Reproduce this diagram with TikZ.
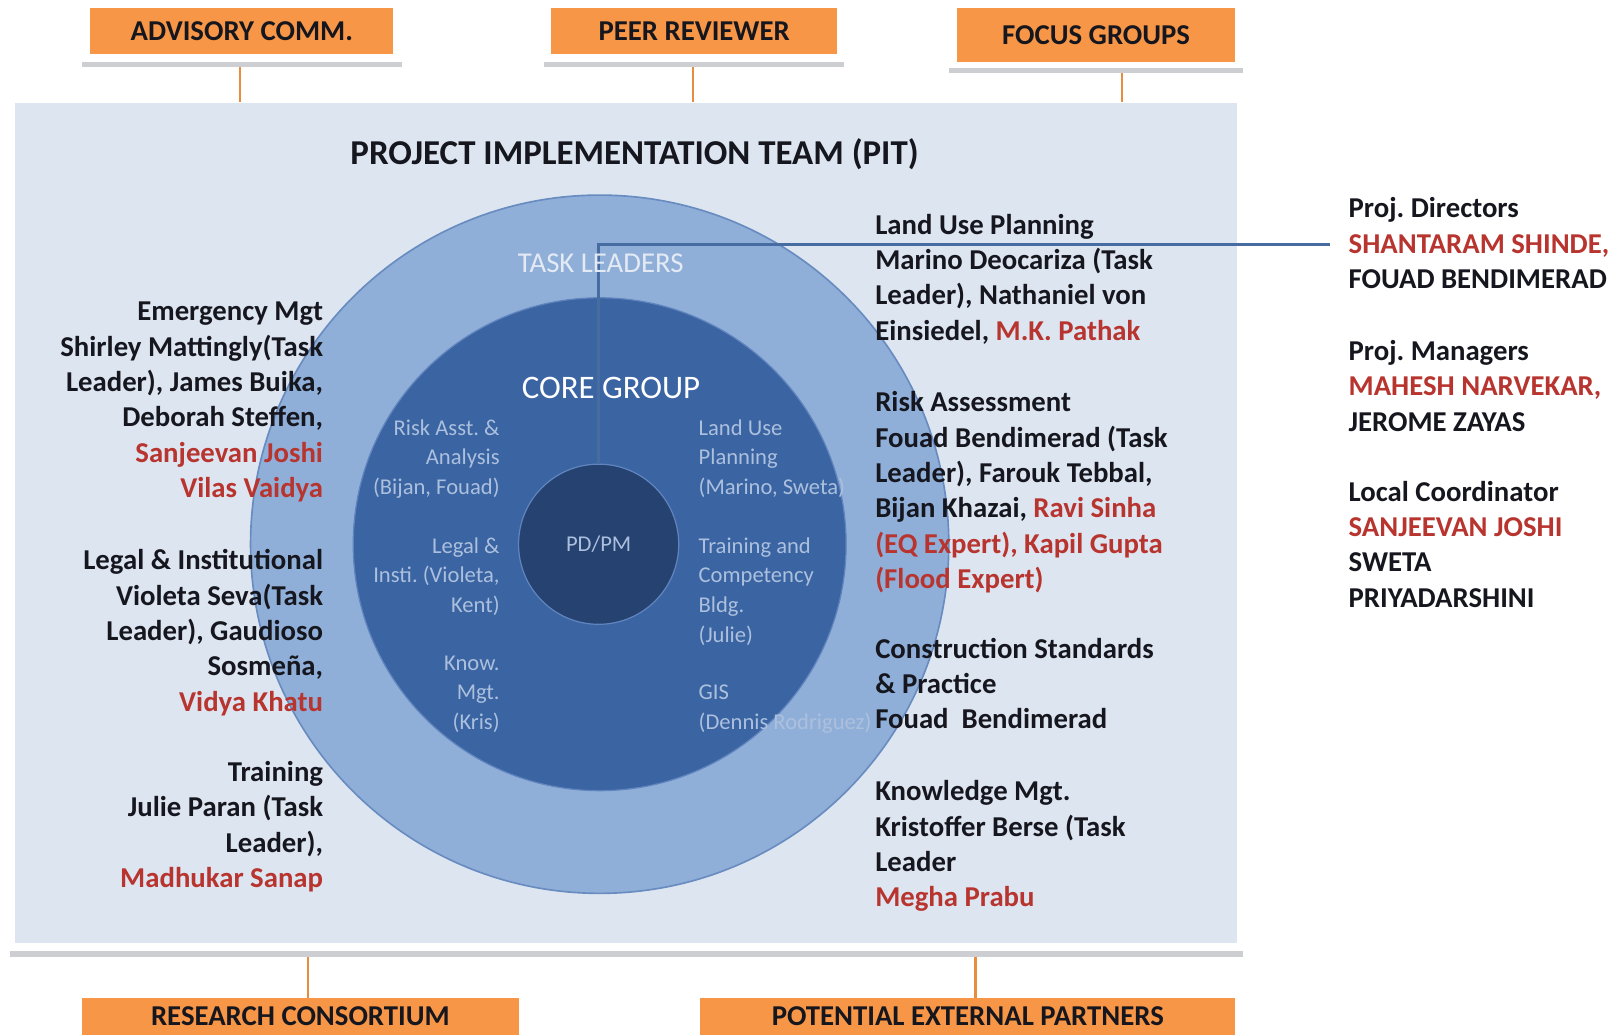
\documentclass[tikz,border=0pt]{standalone}
\usepackage{fontspec}
\setmainfont{Carlito}
\usepackage{xcolor}
\usepackage{tikz}
\frenchspacing

\definecolor{boxorange}{RGB}{247,150,70}
\definecolor{wireorange}{RGB}{232,140,62}
\definecolor{shadowgrey}{RGB}{204,206,210}
\definecolor{pitblue}{RGB}{221,229,241}
\definecolor{ringlight}{RGB}{143,175,217}
\definecolor{ringedge}{RGB}{104,140,192}
\definecolor{coreblue}{RGB}{58,100,162}
\definecolor{coreedge}{RGB}{96,132,190}
\definecolor{pmdark}{RGB}{37,66,112}
\definecolor{corefaint}{RGB}{172,192,222}
\definecolor{leadblue}{RGB}{70,108,162}
\definecolor{textdark}{RGB}{22,22,30}
\definecolor{namered}{RGB}{184,52,46}

\newcommand{\redname}[1]{\textcolor{namered}{#1}}

\begin{document}
\begin{tikzpicture}[x=0.5pt,y=-0.5pt,
  orangebox/.style={fill=boxorange, inner sep=0pt, text=textdark,
    font=\bfseries\fontsize{14}{16}\selectfont},
  shadowbar/.style={fill=shadowgrey},
  orangewire/.style={draw=wireorange, line width=1pt},
  teamtext/.style={inner sep=0pt, text=textdark,
    font=\bfseries\fontsize{14}{17.2}\selectfont},
  corelabel/.style={inner sep=0pt, text=corefaint,
    font=\fontsize{11}{14.5}\selectfont}]
\useasboundingbox (0,0) rectangle (1566,1008);

% team area and its links
\node[fill=pitblue, minimum width=595pt, minimum height=409pt] (pit) at (610,509) {};

\node[orangebox, minimum width=147.5pt, minimum height=22.5pt] (adv) at (235.5,30.5) {ADVISORY COMM.};
\node[orangebox, minimum width=139pt, minimum height=22.5pt] (peer) at (676,30.5) {PEER REVIEWER};
\node[orangebox, minimum width=135.5pt, minimum height=26pt] (focus) at (1067.5,34) {FOCUS GROUPS};
\node[orangebox, minimum width=212.5pt, minimum height=18pt] (research) at (292.5,990) {RESEARCH CONSORTIUM};
\node[orangebox, minimum width=260.5pt, minimum height=18pt] (partners) at (942.5,990) {POTENTIAL EXTERNAL PARTNERS};

\fill[shadowbar] ([xshift=-4pt,yshift=-3.5pt]adv.south west) rectangle ([xshift=4pt,yshift=-6pt]adv.south east);
\fill[shadowbar] ([xshift=-3.5pt,yshift=-3.5pt]peer.south west) rectangle ([xshift=3.5pt,yshift=-6pt]peer.south east);
\fill[shadowbar] ([xshift=-3.5pt,yshift=-3pt]focus.south west) rectangle ([xshift=3.5pt,yshift=-5.5pt]focus.south east);
\fill[shadowbar] ([xshift=-2.5pt,yshift=-4pt]pit.south west) rectangle ([xshift=2.5pt,yshift=-7pt]pit.south east);

\draw[orangewire] ([xshift=-0.75pt,yshift=-6pt]adv.south) -- ([xshift=-0.75pt]adv.south |- pit.north);
\draw[orangewire] ([xshift=-0.5pt,yshift=-6pt]peer.south) -- ([xshift=-0.5pt]peer.south |- pit.north);
\draw[orangewire] ([xshift=12.75pt,yshift=-5.5pt]focus.south) -- ([xshift=12.75pt]focus.south |- pit.north);
\draw[orangewire] ([xshift=3.75pt,yshift=-7pt]pit.south -| research.north) -- ([xshift=3.75pt]research.north);
\draw[orangewire] ([xshift=3.75pt,yshift=-7pt]pit.south -| partners.north) -- ([xshift=3.75pt]partners.north);

\node[text=textdark, font=\bfseries\fontsize{17}{20}\selectfont] (title) at (618,150) {PROJECT IMPLEMENTATION TEAM (PIT)};

% the rings
\node[circle, minimum size=340pt, inner sep=0pt, fill=ringlight, draw=ringedge, line width=0.8pt] (tasks) at (584,530) {};
\node[circle, minimum size=240pt, inner sep=0pt, fill=coreblue, draw=coreedge, line width=0.6pt] (core) at (584,530) {};
\node[circle, minimum size=78pt, inner sep=0pt, fill=pmdark, draw=coreedge, line width=0.6pt,
  text=corefaint, font=\fontsize{11}{13}\selectfont] (pdpm) at (583,530) {PD/PM};

\coordinate (dirtip) at (1295,238);
\draw[leadblue, line width=1.2pt] (pdpm.north) |- (dirtip);

\node[text=pitblue!80!white, font=\fontsize{14}{16}\selectfont] (tasklabel) at (585,256) {TASK LEADERS};
\node[text=white, font=\fontsize{16}{18}\selectfont] (corelabel) at (595,378) {CORE GROUP};

\node[corelabel, anchor=north east, align=right] (riskcore) at (487,408) {Risk Asst. \&\\Analysis\\(Bijan, Fouad)};
\node[corelabel, anchor=north east, align=right] (legalcore) at (487,523) {Legal \&\\Insti. (Violeta,\\Kent)};
\node[corelabel, anchor=north east, align=right] (knowcore) at (487,638) {Know.\\Mgt.\\(Kris)};
\node[corelabel, anchor=north west, align=left] (landcore) at (680,408) {Land Use\\Planning\\(Marino, Sweta)};
\node[corelabel, anchor=north west, align=left] (traincore) at (680,523) {Training and\\Competency\\Bldg.\\(Julie)};
\node[corelabel, anchor=north west, align=left] (giscore) at (680,667) {GIS\\(Dennis Rodriguez)};

% task teams, left side
\node[teamtext, anchor=north east, align=right] (emg) at (315,294)
  {Emergency Mgt\\Shirley Mattingly(Task\\Leader), James Buika,\\Deborah Steffen,\\\redname{Sanjeevan Joshi}\\\redname{Vilas Vaidya}};
\node[teamtext, anchor=north east, align=right] (legal) at (315,535)
  {Legal \& Institutional\\Violeta Seva(Task\\Leader), Gaudioso\\Sosmeña,\\\redname{Vidya Khatu}};
\node[teamtext, anchor=north east, align=right] (train) at (315,741)
  {Training\\Julie Paran (Task\\Leader),\\\redname{Madhukar Sanap}};

% task teams, right side
\node[teamtext, anchor=north west, align=left] (land) at (852,208)
  {Land Use Planning\\Marino Deocariza (Task\\Leader), Nathaniel von\\Einsiedel, \redname{M.K. Pathak}};
\node[teamtext, anchor=north west, align=left] (risk) at (852,381)
  {Risk Assessment\\Fouad Bendimerad (Task\\Leader), Farouk Tebbal,\\Bijan Khazai, \redname{Ravi Sinha}\\\redname{(EQ Expert), Kapil Gupta}\\\redname{(Flood Expert)}};
\node[teamtext, anchor=north west, align=left] (constr) at (852,621)
  {Construction Standards\\\& Practice\\Fouad\ \ Bendimerad};
\node[teamtext, anchor=north west, align=left] (know) at (852,760)
  {Knowledge Mgt.\\Kristoffer Berse (Task\\Leader\\\redname{Megha Prabu}};

% project management
\node[teamtext, anchor=north west, align=left] (dir) at (1313,192)
  {Proj. Directors\\\redname{SHANTARAM SHINDE,}\\FOUAD BENDIMERAD};
\node[teamtext, anchor=north west, align=left] (mgr) at (1313,331)
  {Proj. Managers\\\redname{MAHESH NARVEKAR,}\\JEROME ZAYAS};
\node[teamtext, anchor=north west, align=left] (coord) at (1313,468)
  {Local Coordinator\\\redname{SANJEEVAN JOSHI}\\SWETA\\PRIYADARSHINI};
\end{tikzpicture}
\end{document}
